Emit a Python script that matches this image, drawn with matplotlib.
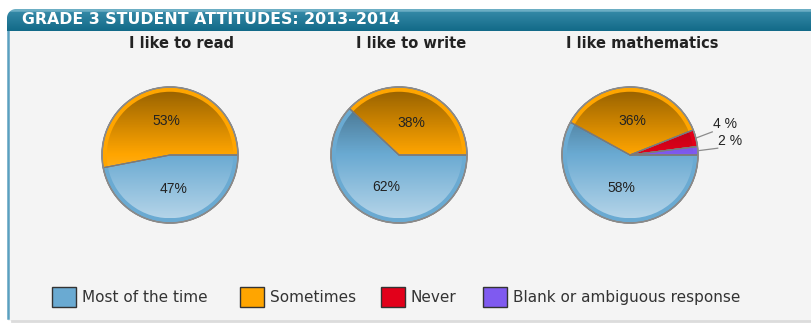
import numpy as np
import matplotlib
matplotlib.use("Agg")
import matplotlib.pyplot as plt
from matplotlib.patches import Rectangle, Circle, Polygon, Patch
from matplotlib.lines import Line2D

# data
categories = ["Most of the time", "Sometimes", "Never", "Blank or ambiguous response"]
colors = ["#6aaad2", "#ffa500", "#e2001a", "#7f5af0"]
titles = ["I like to read", "I like to write", "I like mathematics"]
read_vals = [47, 53, 0, 0]
write_vals = [62, 38, 0, 0]
math_vals = [58, 36, 4, 2]
all_vals = [read_vals, write_vals, math_vals]
header = "GRADE 3 STUDENT ATTITUDES: 2013\u20132014"

W, H = 812, 324
def fx(px):
    return px / W
def fy(py):
    return 1 - py / H

plt.rcParams["font.family"] = ["Liberation Sans", "DejaVu Sans"]
fig = plt.figure(figsize=(8.12, 3.24), dpi=100)
fig.patch.set_facecolor("white")

# panel
fig.patches.append(Rectangle((fx(8), fy(321)), 1, (321 - 31) / H, transform=fig.transFigure,
                             facecolor="#f4f4f4", edgecolor="none", zorder=-5))
fig.lines.append(Line2D([fx(8.5), fx(8.5)], [fy(31), fy(318)], transform=fig.transFigure,
                        color="#5aa0c0", lw=1.8, zorder=-4))
fig.lines.append(Line2D([fx(12), 1], [fy(321), fy(321)], transform=fig.transFigure,
                        color="#dcdcdc", lw=2, zorder=-4))

# header bar with gradient, rounded top-left corner
hdr = fig.add_axes([fx(7), fy(31), 1 - fx(7), 22 / H])
hdr.set_axis_off()
hdr.set_xlim(0, 1)
hdr.set_ylim(0, 1)
top = np.array([0x6c, 0xae, 0xc4]) / 255
mid = np.array([0x34, 0x88, 0xa6]) / 255
bot = np.array([0x12, 0x6a, 0x88]) / 255
img = np.zeros((64, 1, 3))
for i, g in enumerate(np.linspace(0, 1, 64)):
    if g < 0.12:
        img[i, 0] = top
    else:
        t = (g - 0.12) / 0.88
        img[i, 0] = mid * (1 - t) + bot * t
im = hdr.imshow(img, aspect="auto", extent=[0, 1, 0, 1], origin="upper")
rx, ry = 9 / (W - 7), 9 / 22
ang = np.linspace(np.pi, np.pi / 2, 20)
pts = [(0, 0)] + [(rx + rx * np.cos(a), 1 - ry + ry * np.sin(a)) for a in ang] + [(1, 1), (1, 0)]
clip = Polygon(pts, closed=True, transform=hdr.transAxes, facecolor="none", edgecolor="none")
hdr.add_patch(clip)
im.set_clip_path(clip)
fig.text(fx(22), fy(20), header, color="white", fontsize=11.3, fontweight="bold",
         family="DejaVu Sans", va="center", ha="left")

# pies
centers = [170, 399, 630]
cy, r = 155, 68
half = 78
for k, vals in enumerate(all_vals):
    ax = fig.add_axes([fx(centers[k] - half), fy(cy + half), 2 * half / W, 2 * half / H])
    ax.set_axis_off()
    idx = [i for i, v in enumerate(vals) if v > 0]
    v = [vals[i] for i in idx]
    c = [colors[i] for i in idx]
    wedges, _ = ax.pie(v, colors=c, startangle=0, counterclock=False, radius=1,
                       wedgeprops=dict(edgecolor="#8c8c8c", linewidth=0.8))
    for w in wedges:
        w.set_zorder(1)
    # shading overlay
    n = 200
    ov = np.zeros((n, 1, 4))
    for i, y in enumerate(np.linspace(1, -1, n)):
        if y > 0:
            ov[i, 0] = [0, 0, 0, 0.40 * y]
        else:
            ov[i, 0] = [1, 1, 1, 0.5 * (-y)]
    rin = 0.93
    o = ax.imshow(ov, extent=[-rin, rin, -rin, rin], aspect="auto", zorder=2)
    o.set_clip_path(Circle((0, 0), rin, transform=ax.transData))
    edges, _ = ax.pie(v, colors=c, startangle=0, counterclock=False, radius=1,
                      wedgeprops=dict(edgecolor="#7a7a7a", linewidth=0.8))
    for w in edges:
        w.set_facecolor("none")
        w.set_zorder(3)
    ax.add_patch(Circle((0, 0), 1.0, facecolor="none", edgecolor="#8a8a8a", lw=1.1, zorder=4))
    small = 0
    for w, val in zip(wedges, v):
        m = np.deg2rad((w.theta1 + w.theta2) / 2)
        if val >= 10:
            ax.text(0.5 * np.cos(m), 0.5 * np.sin(m), f"{val}%", ha="center", va="center",
                    fontsize=10, color="#222222", zorder=5)
        else:
            # outside labels with leader lines
            ends = [(1.21, 0.34), (1.29, 0.10)]
            labs = [(1.22, 0.46), (1.29, 0.21)]
            ex, ey = ends[small]
            ax.plot([np.cos(m), ex], [np.sin(m), ey], color="#8c8c8c", lw=0.9, zorder=5,
                    clip_on=False)
            ax.text(labs[small][0], labs[small][1], f"{val} %", ha="left", va="center",
                    fontsize=10, color="#222222", zorder=5, clip_on=False)
            small += 1
    ax.set_aspect("equal")
    ax.set_xlim(-half / r, half / r)
    ax.set_ylim(-half / r, half / r)
    fig.text(fx(centers[k] + 12), fy(43), titles[k], ha="center", va="center",
             fontsize=10.5, fontweight="bold", family="DejaVu Sans", color="#222222")

# legend, one entry per box position
box_x = [52, 240, 381, 483]
for i, cat in enumerate(categories):
    fig.legend(handles=[Patch(facecolor=colors[i], edgecolor="#333333", lw=1.0)], labels=[cat],
               loc="center left", bbox_to_anchor=(fx(box_x[i]), fy(297)), frameon=False,
               borderpad=0, borderaxespad=0, handlelength=1.55, handleheight=1.55,
               handletextpad=0.4, prop=dict(family="DejaVu Sans", size=11),
               labelcolor="#333333")

fig.savefig("out.png", dpi=100)
